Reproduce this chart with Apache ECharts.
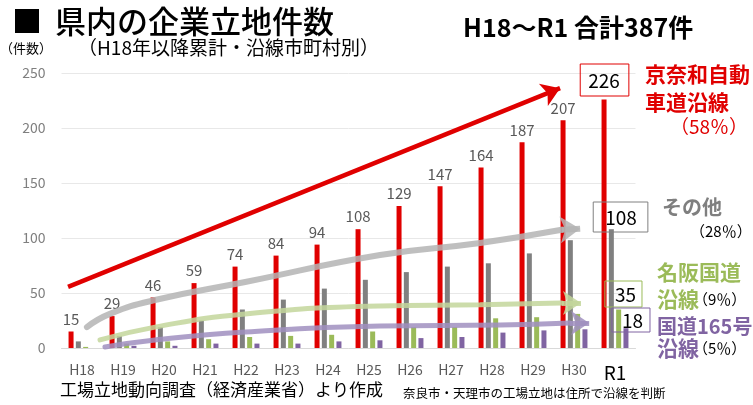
<!DOCTYPE html>
<html>
<head>
<meta charset="utf-8">
<script src="https://cdn.jsdelivr.net/npm/echarts@6/dist/echarts.min.js"></script>
<style>html,body{margin:0;padding:0;background:#fff}#c{width:753px;height:405px}</style>
</head>
<body>
<div id="c"></div>
<script>
// ---- data ----
const categories = ['H18','H19','H20','H21','H22','H23','H24','H25','H26','H27','H28','H29','H30','R1'];
const keinawa  = [15, 29, 46, 59, 74, 84, 94, 108, 129, 147, 164, 187, 207, 226];
const sonota   = [6, 11, 19, 25, 35, 44, 54, 62, 69, 74, 77, 86, 98, 108];
const meihan   = [1, 4, 6, 8, 10, 11, 12, 15, 19, 19, 27, 28, 31, 35];
const route165 = [0, 2, 2, 4, 4, 4, 6, 7, 9, 10, 14, 16, 17, 18];
const yTicks = [0, 50, 100, 150, 200, 250];
// decorative trend arrows (category-index, value)
const redArrow    = [[-0.34, 55.5], [11.66, 236.2]];
const grayArrow   = [[0.12, 19], [0.68, 31], [1.78, 43.6], [3.98, 60], [7.27, 84.5], [9.71, 95.5], [11.7, 107.5], [12.15, 108.5]];
const greenArrow  = [[0.44, 7.3], [1.78, 19], [3.98, 31], [7.27, 38.2], [9.71, 39.3], [11.7, 40.9], [12.17, 40.9]];
const purpleArrow = [[0.56, 0.9], [1.78, 7.3], [3.98, 14.5], [7.27, 20], [10.2, 21], [11.9, 22.7], [12.37, 22.7]];

const JP = "'Noto Sans CJK JP', 'Noto Sans', sans-serif";
const C_RED = '#e00000', C_GRAY = '#808080', C_GREEN = '#9bbb59', C_PURPLE = '#8064a2';

function withBoxLabel(arr, border, offset, pad) {
  return arr.map((v, i) => {
    if (i !== arr.length - 1) return v;
    return { value: v, label: { show: true, position: 'top', distance: 0, offset: offset,
      formatter: String(v), fontSize: 19, lineHeight: 19, color: '#000', fontFamily: JP,
      borderColor: border, borderWidth: 1, padding: pad } };
  });
}

function arrowSeries(pts, color, width, opacity, headSize) {
  const n = pts.length;
  return {
    type: 'line', xAxisIndex: 1, yAxisIndex: 0, data: pts.slice(0, n - 1), smooth: true,
    symbol: 'none', z: 5, silent: true, animation: false,
    lineStyle: { color: color, width: width, opacity: opacity, cap: 'round' },
    markLine: {
      silent: true, animation: false, symbol: ['none', 'arrow'], symbolSize: headSize,
      label: { show: false },
      lineStyle: { color: color, width: width, opacity: opacity, type: 'solid' },
      data: [[{ coord: pts[n - 2] }, { coord: pts[n - 1] }]]
    }
  };
}

const chart = echarts.init(document.getElementById('c'), null, { renderer: 'canvas' });
const redKeinawa = withBoxLabel(keinawa, C_RED, [0.5, -3.4], [7, 9, 6, 8]);

chart.setOption({
  animation: false,
  grid: { left: 61.5, right: 117.5, top: 73, bottom: 57, containLabel: false },
  xAxis: [{
    type: 'category', data: categories,
    axisLine: { lineStyle: { color: '#d9d9d9' } }, axisTick: { show: false },
    axisLabel: { interval: 0, color: '#595959', fontSize: 14, margin: 15, fontFamily: JP,
      formatter: v => v === 'R1' ? '{r|R1}' : v,
      rich: { r: { fontSize: 19, color: '#000', fontFamily: JP } } }
  }, {
    type: 'value', min: -0.5, max: 13.5, show: false
  }],
  yAxis: {
    type: 'value', min: yTicks[0], max: yTicks[yTicks.length - 1], interval: 50,
    axisLine: { show: false }, axisTick: { show: false },
    axisLabel: { color: '#7f7f7f', fontSize: 14, margin: 16, fontFamily: JP },
    splitLine: { lineStyle: { color: '#e8e8e8' } }
  },
  series: [
    { type: 'bar', name: '京奈和', data: redKeinawa, barWidth: 5, barGap: '46%', itemStyle: { color: C_RED },
      label: { show: true, position: 'top', distance: 5, color: '#595959', fontSize: 15, fontFamily: JP } },
    { type: 'bar', name: 'その他', data: withBoxLabel(sonota, C_GRAY, [9.2, 2.8], [6, 11, 5, 12]), barWidth: 5, barGap: '46%', itemStyle: { color: C_GRAY } },
    { type: 'bar', name: '名阪', data: withBoxLabel(meihan, C_GREEN, [4.8, -2.5], [4, 6, 3, 10]), barWidth: 5, barGap: '46%', itemStyle: { color: C_GREEN } },
    { type: 'bar', name: '165', data: withBoxLabel(route165, C_PURPLE, [5, 3.8], [3, 7, 2, 10]), barWidth: 5, barGap: '46%', itemStyle: { color: C_PURPLE } },
    { type: 'line', xAxisIndex: 1, data: [], symbol: 'none', z: 5, silent: true,
      markLine: { silent: true, animation: false, symbol: ['none', 'arrow'], symbolSize: 18, label: { show: false },
        lineStyle: { color: C_RED, width: 4.5, type: 'solid', opacity: 1 },
        data: [[{ coord: redArrow[0] }, { coord: redArrow[1] }]] } },
    arrowSeries(grayArrow, '#b4b4b4', 6, 0.85, 20),
    arrowSeries(greenArrow, '#c3d69b', 5, 0.85, 18),
    arrowSeries(purpleArrow, '#a08fc0', 5, 0.85, 18)
  ],
  graphic: [
    { type: 'text', x: 12, y: 21, style: { text: '■', fontSize: 30, fontFamily: JP, fill: '#000', verticalAlign: 'middle' } },
    { type: 'text', x: 55, y: 21, style: { text: '県内の企業立地件数', fontSize: 31, fontWeight: 500, fontFamily: JP, fill: '#000', verticalAlign: 'middle' } },
    { type: 'text', x: 0, y: 48, style: { text: '（件数）', fontSize: 13, fontFamily: JP, fill: '#000', verticalAlign: 'middle' } },
    { type: 'text', x: 78, y: 48, style: { text: '（H18年以降累計・沿線市町村別）', fontSize: 19, fontFamily: JP, fill: '#000', verticalAlign: 'middle' } },
    { type: 'text', x: 463, y: 27, style: { text: 'H18～R1 合計387件', fontSize: 25, fontWeight: 'bold', fontFamily: JP, fill: '#000', verticalAlign: 'middle' } },
    { type: 'text', x: 645, y: 74, style: { text: '京奈和自動', fontSize: 21, fontWeight: 'bold', fontFamily: JP, fill: C_RED, verticalAlign: 'middle' } },
    { type: 'text', x: 645, y: 102, style: { text: '車道沿線', fontSize: 21, fontWeight: 'bold', fontFamily: JP, fill: C_RED, verticalAlign: 'middle' } },
    { type: 'text', x: 670, y: 127, style: { text: '（58％）', fontSize: 19, fontFamily: JP, fill: C_RED, verticalAlign: 'middle' } },
    { type: 'text', x: 662, y: 207, style: { text: 'その他', fontSize: 20, fontWeight: 'bold', fontFamily: JP, fill: '#7f7f7f', verticalAlign: 'middle' } },
    { type: 'text', x: 690, y: 231, style: { text: '（28％）', fontSize: 15, fontFamily: JP, fill: '#000', verticalAlign: 'middle' } },
    { type: 'text', x: 657, y: 272, style: { text: '名阪国道', fontSize: 21, fontWeight: 'bold', fontFamily: JP, fill: C_GREEN, verticalAlign: 'middle' } },
    { type: 'text', x: 657, y: 299, style: { text: '沿線', fontSize: 21, fontWeight: 'bold', fontFamily: JP, fill: C_GREEN, verticalAlign: 'middle' } },
    { type: 'text', x: 693, y: 299, style: { text: '（9％）', fontSize: 15, fontFamily: JP, fill: '#000', verticalAlign: 'middle' } },
    { type: 'text', x: 657, y: 326, style: { text: '国道165号', fontSize: 20, fontWeight: 'bold', fontFamily: JP, fill: C_PURPLE, verticalAlign: 'middle' } },
    { type: 'text', x: 657, y: 348, style: { text: '沿線', fontSize: 21, fontWeight: 'bold', fontFamily: JP, fill: C_PURPLE, verticalAlign: 'middle' } },
    { type: 'text', x: 693, y: 348, style: { text: '（5％）', fontSize: 15, fontFamily: JP, fill: '#000', verticalAlign: 'middle' } },
    { type: 'text', x: 60, y: 390, style: { text: '工場立地動向調査（経済産業省）より作成', fontSize: 17, fontFamily: JP, fill: '#000', verticalAlign: 'middle' } },
    { type: 'text', x: 403, y: 393, style: { text: '奈良市・天理市の工場立地は住所で沿線を判断', fontSize: 12.5, fontFamily: JP, fill: '#000', verticalAlign: 'middle' } }
  ]
});
</script>
</body>
</html>
